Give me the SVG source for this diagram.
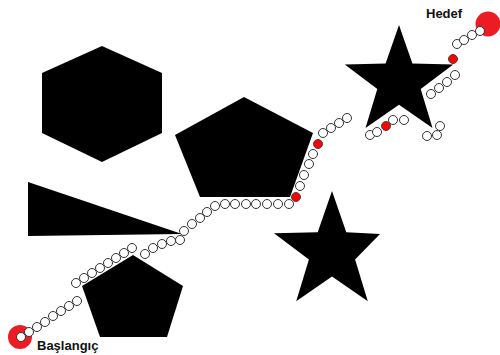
<svg xmlns="http://www.w3.org/2000/svg" width="500" height="355" viewBox="0 0 500 355">
<style>
.obs{fill:#000}
.n{fill:#fff;stroke:#333;stroke-width:1}
.w{fill:#f00;stroke:#444;stroke-width:1}
.end{fill:#ec1c24}
.lbl{font-family:"Liberation Sans",Arial,sans-serif;font-weight:bold;font-size:13px;fill:#111}
</style>
<rect width="500" height="355" fill="#fff"/>
<g id="obstacles">
<polygon id="hexagon" class="obs" points="102,46 162,73 162,133 102,162 42,133 42,73"/>
<polygon id="triangle" class="obs" points="28,182 182,234 28,236"/>
<polygon id="pentagon-big" class="obs" points="244,97 313,133 290,197 200,197 175,135"/>
<polygon id="pentagon-small" class="obs" points="133,255 183,286 167,337 100,337 82,286"/>
<polygon id="star-top" class="obs" points="399,25 412.4,63.5 453.2,64.4 420.7,89 432.5,128.1 399,104.8 365.5,128.1 377.3,89 344.8,64.4 385.6,63.5"/>
<polygon id="star-bottom" class="obs" points="332,191 346.3,232.3 380,234 355.1,259.5 367.8,301.3 332,276.4 296.2,301.3 308.9,259.5 274,233.2 317.7,232.3"/>
</g>
<g id="start">
<circle class="end" cx="20" cy="337" r="12"/>
<text class="lbl" x="37" y="350">Başlangıç</text>
</g>
<g id="goal">
<circle class="end" cx="488" cy="24" r="12.5"/>
<text class="lbl" x="426" y="18">Hedef</text>
</g>
<g id="path">
<circle class="n" cx="21" cy="337" r="4.5"/>
<circle class="n" cx="29" cy="332" r="4.5"/>
<circle class="n" cx="37" cy="327" r="4.5"/>
<circle class="n" cx="45" cy="322" r="4.5"/>
<circle class="n" cx="53" cy="316" r="4.5"/>
<circle class="n" cx="61" cy="311" r="4.5"/>
<circle class="n" cx="69" cy="306" r="4.5"/>
<circle class="n" cx="77" cy="301" r="4.5"/>
<circle class="n" cx="76" cy="283" r="4.5"/>
<circle class="n" cx="84" cy="278" r="4.5"/>
<circle class="n" cx="92" cy="273" r="4.5"/>
<circle class="n" cx="100" cy="268" r="4.5"/>
<circle class="n" cx="108" cy="263" r="4.5"/>
<circle class="n" cx="116" cy="258" r="4.5"/>
<circle class="n" cx="124" cy="253" r="4.5"/>
<circle class="n" cx="132" cy="248" r="4.5"/>
<circle class="n" cx="145" cy="254" r="4.5"/>
<circle class="n" cx="153" cy="248" r="4.5"/>
<circle class="n" cx="162" cy="244" r="4.5"/>
<circle class="n" cx="171" cy="241" r="4.5"/>
<circle class="n" cx="180" cy="240" r="4.5"/>
<circle class="n" cx="184" cy="231" r="4.5"/>
<circle class="n" cx="192" cy="224" r="4.5"/>
<circle class="n" cx="200" cy="218" r="4.5"/>
<circle class="n" cx="207" cy="212" r="4.5"/>
<circle class="n" cx="215" cy="206" r="4.5"/>
<circle class="n" cx="225" cy="204" r="4.5"/>
<circle class="n" cx="235" cy="204" r="4.5"/>
<circle class="n" cx="246" cy="204" r="4.5"/>
<circle class="n" cx="256" cy="204" r="4.5"/>
<circle class="n" cx="267" cy="204" r="4.5"/>
<circle class="n" cx="278" cy="204" r="4.5"/>
<circle class="n" cx="289" cy="204" r="4.5"/>
<circle class="w" cx="296" cy="197" r="4.5"/>
<circle class="n" cx="300" cy="186" r="4.5"/>
<circle class="n" cx="304" cy="175" r="4.5"/>
<circle class="n" cx="309" cy="164" r="4.5"/>
<circle class="n" cx="313" cy="154" r="4.5"/>
<circle class="w" cx="318" cy="144" r="4.5"/>
<circle class="n" cx="323" cy="133" r="4.5"/>
<circle class="n" cx="331" cy="128" r="4.5"/>
<circle class="n" cx="339" cy="123" r="4.5"/>
<circle class="n" cx="347" cy="118" r="4.5"/>
<circle class="n" cx="370" cy="135" r="4.5"/>
<circle class="n" cx="377" cy="132" r="4.5"/>
<circle class="w" cx="386" cy="126" r="4.5"/>
<circle class="n" cx="393" cy="120" r="4.5"/>
<circle class="n" cx="404" cy="120" r="4.5"/>
<circle class="n" cx="427" cy="136" r="4.5"/>
<circle class="n" cx="437" cy="135" r="4.5"/>
<circle class="n" cx="440" cy="126" r="4.5"/>
<circle class="n" cx="431" cy="94" r="4.5"/>
<circle class="n" cx="439" cy="88" r="4.5"/>
<circle class="n" cx="447" cy="82" r="4.5"/>
<circle class="n" cx="455" cy="75" r="4.5"/>
<circle class="w" cx="453" cy="59" r="4.5"/>
<circle class="n" cx="457" cy="44" r="4.5"/>
<circle class="n" cx="464" cy="40" r="4.5"/>
<circle class="n" cx="472" cy="35" r="4.5"/>
<circle class="n" cx="480" cy="31" r="4.5"/>
</g>
</svg>
